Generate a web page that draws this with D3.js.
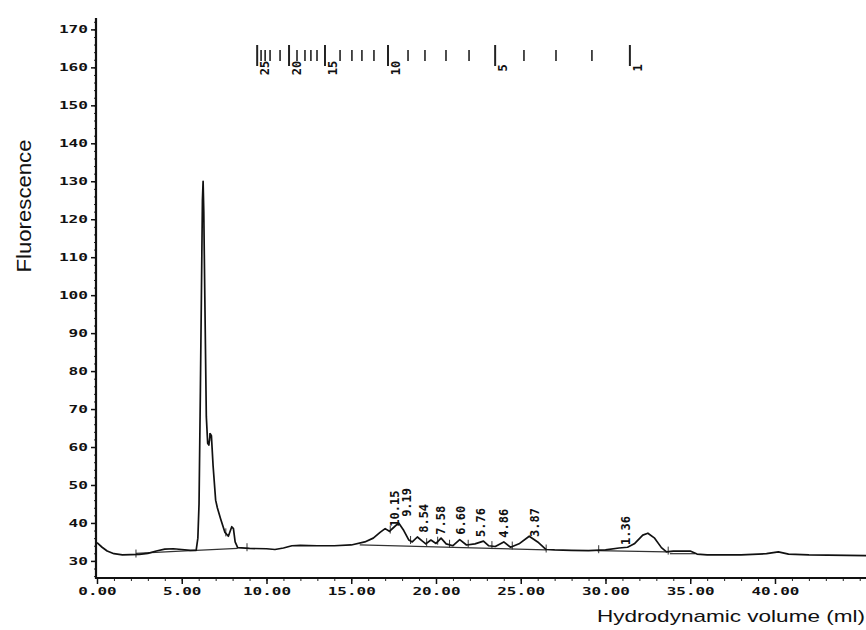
<!DOCTYPE html>
<html>
<head>
<meta charset="utf-8">
<script src="https://cdn.jsdelivr.net/npm/d3@7"></script>
<style>
  html, body { margin: 0; padding: 0; background: #fff; }
  svg { display: block; }
</style>
</head>
<body>
<svg id="chart" width="866" height="630"></svg>
<script>
// ---------------- data ----------------
// chromatogram trace: hydrodynamic volume (ml) vs fluorescence
const volume = [0, 0.3, 0.6, 1.0, 1.5, 2.5, 3.0, 3.5, 4.0, 4.5, 5.0, 5.5, 5.85,
  5.95, 6.02, 6.1, 6.16, 6.22, 6.26, 6.30, 6.36, 6.45, 6.53, 6.6, 6.68, 6.75, 6.85, 7.0, 7.1, 7.3, 7.55, 7.75, 7.95, 8.05, 8.15, 8.3,
  9, 10, 10.5, 11, 11.5, 12, 13, 14, 15, 15.8, 16.3, 16.7, 17.0, 17.25, 17.5, 17.8, 18.1, 18.4, 18.6, 18.9, 19.2, 19.4, 19.7, 20.0,
  20.3, 20.6, 21.0, 21.4, 21.8, 22.3, 22.8, 23.1, 23.5, 24.0, 24.4, 24.9, 25.5, 26.0, 26.5, 27, 28, 29, 30, 30.8, 31.3, 31.7,
  32.2, 32.5, 32.9, 33.3, 33.6, 34, 35, 35.4, 36, 38, 39.5, 40.2, 40.8, 42, 45.4];
const fluorescence = [34.8, 33.6, 32.6, 31.9, 31.6, 31.7, 32.0, 32.6, 33.1, 33.2, 33.0, 32.8, 32.8,
  36, 45, 75, 100, 125, 130, 122, 100, 68, 61, 60.5, 63.5, 63, 55, 46, 44, 41, 37.5, 36.5, 39, 38.5, 35, 33.5,
  33.3, 33.2, 33.0, 33.4, 34.0, 34.1, 34.0, 34.0, 34.2, 35, 36, 37.5, 38.5, 37.8, 38.8, 40, 38, 35.5, 35, 36.3, 35.2, 34.5, 35.5, 34.6,
  36.0, 34.5, 34.0, 35.6, 34.2, 34.5, 35.2, 34.0, 33.8, 35.0, 33.6, 34.5, 36.5, 35, 33.0, 32.9, 32.8, 32.7, 32.9, 33.4, 33.6, 34.5,
  36.8, 37.3, 36, 33.5, 32.4, 32.6, 32.6, 31.8, 31.6, 31.6, 31.9, 32.4, 31.8, 31.6, 31.4];

// integrator baselines (start ml, start value, end ml, end value)
const baseStartMl  = [5.85, 15.5, 29.5, 33.8, 2.3];
const baseStartVal = [32.8, 34.2, 32.7, 31.9, 32.0];
const baseEndMl    = [8.3, 26.5, 33.6, 35.3, 5.8];
const baseEndVal   = [33.3, 32.9, 32.4, 31.9, 32.8];

// drop lines / event marks (ml)
const eventMarks = [2.3, 6.65, 7.6, 8.85, 17.3, 18.5, 19.45, 20.1, 20.8, 21.9, 23.3, 24.5, 26.5, 29.6, 33.7];

// peak labels
const peakLabels = ["10.15", "9.19", "8.54", "7.58", "6.60", "5.76", "4.86", "3.87", "1.36"];
const peakLabelMl = [17.52, 18.23, 19.23, 20.24, 21.42, 22.6, 23.95, 25.78, 31.15];
const peakLabelBase = [39.0, 41.6, 37.4, 36.9, 36.9, 36.3, 36.1, 36.3, 34.2];

// calibration marker scale along the top
const markerSize = [25, 24, 23, 22, 21, 20, 19, 18, 17, 16, 15, 14, 13, 12, 11, 10, 9, 8, 7, 6, 5, 4, 3, 2, 1];
const markerMl = [9.45, 9.68, 9.92, 10.21, 10.8, 11.33, 11.8, 12.27, 12.62, 12.98, 13.45, 14.34, 15.04, 15.63, 16.34, 17.17,
  18.35, 19.35, 20.59, 21.95, 23.49, 25.19, 27.08, 29.2, 31.44];
const markerLabelled = [25, 20, 15, 10, 5, 1];

// axis ticks
const yTicks = [30, 40, 50, 60, 70, 80, 90, 100, 110, 120, 130, 140, 150, 160, 170];
const xTicks = [0, 5, 10, 15, 20, 25, 30, 35, 40];

// ---------------- chart ----------------
const svg = d3.select("#chart");
const x = d3.scaleLinear().domain([0, 45.37]).range([97, 866]);
const y = d3.scaleLinear().domain([25.5, 173]).range([578, 18]);

const monoFont = "'DejaVu Sans Mono', 'Liberation Mono', monospace";

// minor y ticks
const yAxisMinor = d3.axisLeft(y).tickValues(d3.range(26, 173, 2)).tickSize(2).tickFormat("");
svg.append("g").attr("transform", "translate(96,0)").call(yAxisMinor)
  .call(g => g.select(".domain").remove())
  .selectAll("line").attr("stroke", "#222");

// major y ticks
const yAxis = d3.axisLeft(y).tickValues(yTicks).tickSize(5).tickPadding(3).tickFormat(d3.format("d"));
svg.append("g").attr("transform", "translate(96,0)").call(yAxis)
  .call(g => g.select(".domain").remove())
  .call(g => g.selectAll("line").attr("stroke", "#111").attr("stroke-width", 1.5))
  .call(g => g.selectAll("text")
    .attr("font-family", monoFont).attr("font-weight", "bold").attr("font-size", 11)
    .attr("fill", "#111")
    .attr("textLength", d => String(d).length * 9.7)
    .attr("lengthAdjust", "spacingAndGlyphs"));

// minor x ticks
const xAxisMinor = d3.axisBottom(x).tickValues(d3.range(0, 46, 1)).tickSize(3).tickFormat("");
svg.append("g").attr("transform", "translate(0,578)").call(xAxisMinor)
  .call(g => g.select(".domain").remove())
  .selectAll("line").attr("stroke", "#222");

// major x ticks
const xAxis = d3.axisBottom(x).tickValues(xTicks).tickSize(6).tickPadding(3).tickFormat(d3.format(".2f"));
svg.append("g").attr("transform", "translate(0,578)").call(xAxis)
  .call(g => g.select(".domain").remove())
  .call(g => g.selectAll("line").attr("stroke", "#111").attr("stroke-width", 1.5))
  .call(g => g.selectAll("text")
    .attr("font-family", monoFont).attr("font-weight", "bold").attr("font-size", 11)
    .attr("fill", "#111")
    .attr("textLength", d => d3.format(".2f")(d).length * 9.6)
    .attr("lengthAdjust", "spacingAndGlyphs"));

// spines
svg.append("line").attr("x1", 96).attr("x2", 96).attr("y1", y(173)).attr("y2", 579)
  .attr("stroke", "#111").attr("stroke-width", 2.2);
svg.append("line").attr("x1", 95).attr("x2", 866).attr("y1", 578).attr("y2", 578)
  .attr("stroke", "#111").attr("stroke-width", 2.2);

// integrator baselines
svg.append("g").selectAll("line").data(baseStartMl).join("line")
  .attr("x1", (d, i) => x(d)).attr("y1", (d, i) => y(baseStartVal[i]))
  .attr("x2", (d, i) => x(baseEndMl[i])).attr("y2", (d, i) => y(baseEndVal[i]))
  .attr("stroke", "#333").attr("stroke-width", 1.2);

// drop lines / event marks
const bis = d3.bisector(d => d).left;
function curveAt(v) {
  const i = Math.max(1, Math.min(volume.length - 1, bis(volume, v)));
  const t = (v - volume[i - 1]) / (volume[i] - volume[i - 1]);
  return fluorescence[i - 1] + t * (fluorescence[i] - fluorescence[i - 1]);
}
svg.append("g").selectAll("line").data(eventMarks).join("line")
  .attr("x1", d => x(d)).attr("x2", d => x(d))
  .attr("y1", d => y(curveAt(d)) + 3).attr("y2", d => y(curveAt(d)) - 5)
  .attr("stroke", "#333").attr("stroke-width", 1);

// main trace
const line = d3.line().x((d, i) => x(volume[i])).y((d, i) => y(fluorescence[i]));
svg.append("path").datum(fluorescence).attr("d", line)
  .attr("fill", "none").attr("stroke", "#111").attr("stroke-width", 1.7)
  .attr("stroke-linejoin", "round");

// peak labels
svg.append("g").selectAll("text").data(peakLabels).join("text")
  .attr("transform", (d, i) => `translate(${x(peakLabelMl[i]) + 5},${y(peakLabelBase[i])}) rotate(-90)`)
  .attr("text-anchor", "start")
  .attr("font-family", monoFont).attr("font-weight", "bold").attr("font-size", 12).attr("fill", "#111")
  .text(d => d);

// top marker scale
const mk = svg.append("g");
mk.selectAll("line").data(markerSize).join("line")
  .attr("x1", (d, i) => x(markerMl[i])).attr("x2", (d, i) => x(markerMl[i]))
  .attr("y1", d => markerLabelled.includes(d) ? 45 : 50)
  .attr("y2", d => markerLabelled.includes(d) ? 66 : 61)
  .attr("stroke", "#222").attr("stroke-width", d => markerLabelled.includes(d) ? 2 : 1.6);
mk.selectAll("text").data(markerSize.filter(d => markerLabelled.includes(d))).join("text")
  .attr("transform", d => `translate(${x(markerMl[markerSize.indexOf(d)]) + 12},68) rotate(-90)`)
  .attr("text-anchor", "middle")
  .attr("font-family", monoFont).attr("font-weight", "bold").attr("font-size", 12).attr("fill", "#111")
  .text(d => d);

// axis titles
svg.append("text")
  .attr("transform", "translate(31,206) rotate(-90)")
  .attr("text-anchor", "middle")
  .attr("font-family", "'Liberation Sans', Arial, sans-serif").attr("font-size", 21)
  .attr("fill", "#111")
  .attr("textLength", 133).attr("lengthAdjust", "spacingAndGlyphs")
  .text("Fluorescence");
svg.append("text")
  .attr("x", 597).attr("y", 622)
  .attr("font-family", "'Liberation Sans', Arial, sans-serif").attr("font-size", 17)
  .attr("fill", "#111")
  .attr("textLength", 268).attr("lengthAdjust", "spacingAndGlyphs")
  .text("Hydrodynamic volume (ml)");
</script>
</body>
</html>
